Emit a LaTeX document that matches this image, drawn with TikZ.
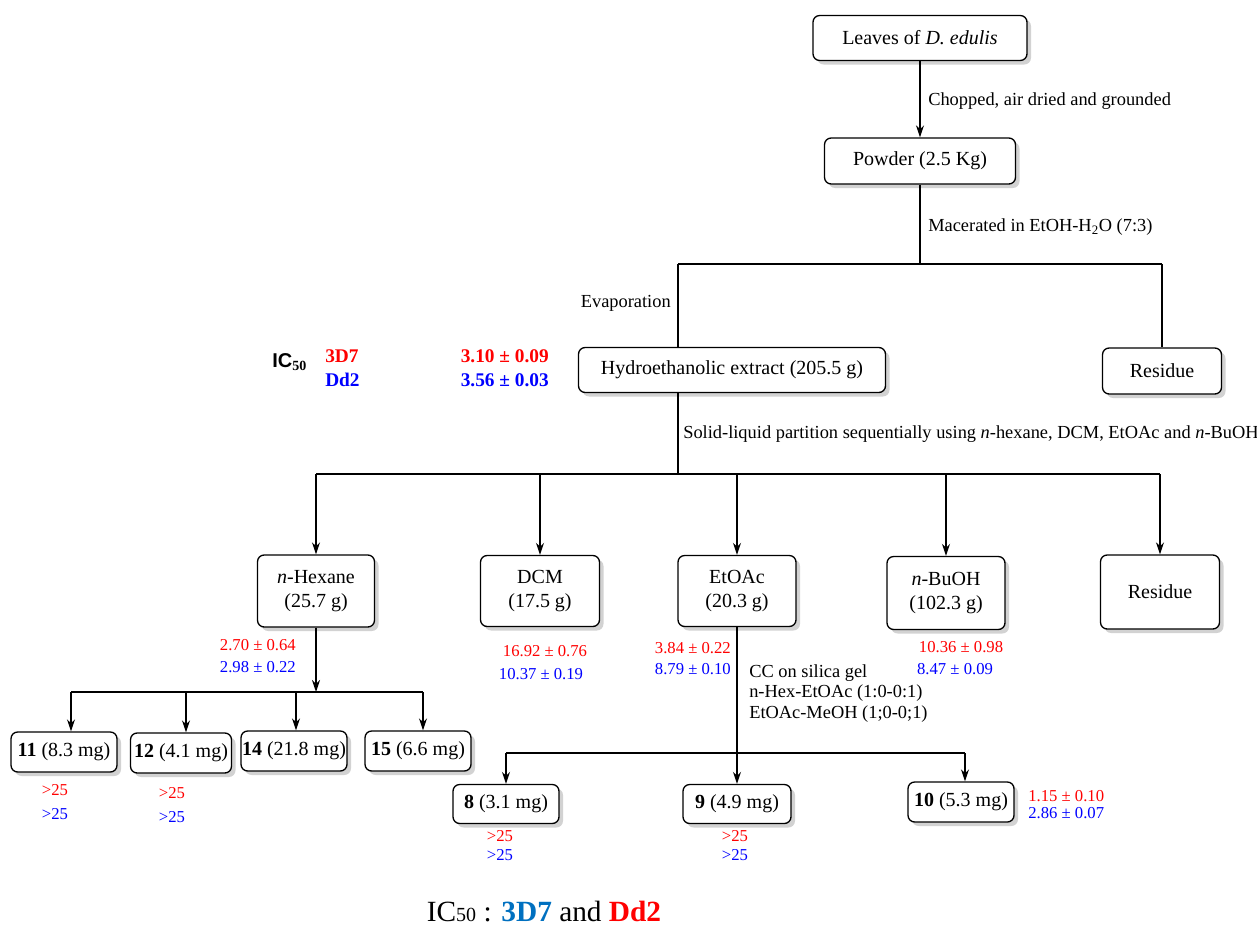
\documentclass[tikz,border=0pt]{standalone}
\usepackage{fontspec}
\setmainfont{Liberation Serif}
\newfontfamily\arialf{Liberation Sans}
\usetikzlibrary{shadows,arrows.meta}
\definecolor{myred}{RGB}{255,0,0}
\definecolor{myblue}{RGB}{0,0,255}
\definecolor{lblue}{RGB}{0,112,192}
\begin{document}
\begin{tikzpicture}[x=0.75pt,y=-0.75pt,
 box/.style={draw,line width=1pt,rounded corners=5pt,fill=white,align=center,
   font=\fontsize{15}{18}\selectfont,inner sep=0pt,
   drop shadow={shadow xshift=3pt,shadow yshift=-3pt,fill=black!35}},
 bx/.style 2 args={minimum width=#1*0.75pt,minimum height=#2*0.75pt},
 ln/.style={line width=1.3pt},
 arr/.style={ln,-{Stealth[length=9pt,width=6pt]}},
 lbl/.style={font=\fontsize{13.8}{17}\selectfont,inner sep=0pt},
 val/.style={font=\fontsize{12.5}{15}\selectfont,inner sep=0pt},
 rv/.style={val,text=myred},
 bv/.style={val,text=myblue},
 icb/.style={font=\bfseries\fontsize{14.5}{17}\selectfont,inner sep=0pt},
 ]
\useasboundingbox (0,0) rectangle (1257,929);

% top
\node[box,bx={214}{45}] (leaves) at (920,38) {Leaves of \textit{D. edulis}};
\node[box,bx={191}{46}] (powder) at (920,161) {Powder (2.5 Kg)};
\draw[arr] (leaves) -- (powder);
\node[lbl,anchor=west] (l1) at (928,101) {Chopped, air dried and grounded};
\coordinate (j1) at (920,264);
\draw[ln] (powder) -- (j1);
\node[lbl,anchor=west] (l2) at (928,227) {Macerated in EtOH-H\textsubscript{2}O (7:3)};

\node[box,bx={307}{45}] (hydro) at (732,370) {Hydroethanolic extract (205.5 g)};
\node[box,bx={119}{46}] (res1) at (1162,371) {Residue};
\coordinate (jL) at (678,264);
\coordinate (jR) at (1162,264);
\draw[ln] (jL) -- (jR);
\draw[ln] (jL) -- (jL |- hydro.north);
\draw[ln] (jR) -- (res1.north);
\node[lbl,anchor=east] (evap) at (671,303) {Evaporation};

% IC50 block
\node[anchor=west,inner sep=0pt,font=\arialf\bfseries\fontsize{15}{17}\selectfont] (ic) at (272,362) {IC\textsubscript{\rmfamily 50}};
\node[icb,anchor=west,text=myred] (s3d7) at (325,356) {3D7};
\node[icb,anchor=west,text=myblue] (sdd2) at (325,380) {Dd2};
\node[icb,anchor=east,text=myred] (v1) at (549,356) {3.10 ± 0.09};
\node[icb,anchor=east,text=myblue] (v2) at (549,380) {3.56 ± 0.03};

% partition
\coordinate (p0) at (678,474);
\draw[ln] (jL |- hydro.south) -- (p0);
\node[lbl,anchor=west] (l3) at (683,434) {Solid-liquid partition sequentially using \textit{n}-hexane, DCM, EtOAc and \textit{n}-BuOH};

\node[box,bx={117}{72}] (hexane) at (316,591) {\textit{n}-Hexane\\(25.7 g)};
\node[box,bx={119}{71}] (dcm) at (540,591) {DCM\\(17.5 g)};
\node[box,bx={118}{71}] (etoac) at (737,591) {EtOAc\\(20.3 g)};
\node[box,bx={118}{73}] (buoh) at (946,593) {\textit{n}-BuOH\\(102.3 g)};
\node[box,bx={119}{74}] (res2) at (1160,592) {Residue};
\draw[ln] (hexane.north |- p0) -- (res2.north |- p0);
\foreach \n in {hexane,dcm,etoac,buoh,res2}
  \draw[arr] (\n.north |- p0) -- (\n.north);

% values under fractions
\node[rv,anchor=east] (hv1) at (296,645) {2.70 ± 0.64};
\node[bv,anchor=east] (hv2) at (296,667) {2.98 ± 0.22};
\node[rv] (dv1) at (545,651) {16.92 ± 0.76};
\node[bv] (dv2) at (541,674) {10.37 ± 0.19};
\node[rv,anchor=east] (ev1) at (731,648) {3.84 ± 0.22};
\node[bv,anchor=east] (ev2) at (731,669) {8.79 ± 0.10};
\node[rv] (bv1) at (961,647) {10.36 ± 0.98};
\node[bv] (bv2) at (955,669) {8.47 ± 0.09};

% hexane subtree
\coordinate (hx) at (316,692);
\coordinate (a11) at (71,692);
\coordinate (a12) at (186,692);
\coordinate (a14) at (296,692);
\coordinate (a15) at (423,692);
\draw[arr] (hexane.south) -- (hx);
\draw[ln] (a11) -- (a15);
\node[box,bx={106}{40}] (c11) at (64,752) {\textbf{11} (8.3 mg)};
\node[box,bx={101}{40}] (c12) at (181,753) {\textbf{12} (4.1 mg)};
\node[box,bx={106}{40}] (c14) at (294,751) {\textbf{14} (21.8 mg)};
\node[box,bx={106}{40}] (c15) at (418,751) {\textbf{15} (6.6 mg)};
\draw[arr] (a11) -- (a11 |- c11.north);
\draw[arr] (a12) -- (a12 |- c12.north);
\draw[arr] (a14) -- (a14 |- c14.north);
\draw[arr] (a15) -- (a15 |- c15.north);
\node[rv] (r11a) at (55,790) {>25};
\node[bv] (r11b) at (55,814) {>25};
\node[rv] (r12a) at (172,793) {>25};
\node[bv] (r12b) at (172,817) {>25};

% EtOAc subtree
\node[lbl,anchor=west] (cc1) at (749,673) {CC on silica gel};
\node[lbl,anchor=west] (cc2) at (749,693) {n-Hex-EtOAc (1:0-0:1)};
\node[lbl,anchor=west] (cc3) at (749,714) {EtOAc-MeOH (1;0-0;1)};
\coordinate (e8) at (506,753);
\coordinate (e10) at (965,753);
\node[box,bx={106}{39}] (c8) at (506,804) {\textbf{8} (3.1 mg)};
\node[box,bx={108}{39}] (c9) at (737,804) {\textbf{9} (4.9 mg)};
\node[box,bx={106}{40}] (c10) at (961,802) {\textbf{10} (5.3 mg)};
\draw[arr] (etoac.south) -- (c9.north);
\draw[ln] (e8) -- (e10);
\draw[arr] (e8) -- (e8 |- c8.north);
\draw[arr] (e10) -- (e10 |- c10.north);
\node[rv,anchor=west] (t10a) at (1028,796) {1.15 ± 0.10};
\node[bv,anchor=west] (t10b) at (1028,813) {2.86 ± 0.07};
\node[rv] (t8a) at (500,836) {>25};
\node[bv] (t8b) at (500,855) {>25};
\node[rv] (t9a) at (735,836) {>25};
\node[bv] (t9b) at (735,855) {>25};

% legend
\node[inner sep=0pt,font=\fontsize{22}{26}\selectfont] (leg) at (544,912) {IC{\fontsize{15}{18}\selectfont 50} : \textcolor{lblue}{\textbf{3D7}} and \textcolor{myred}{\textbf{Dd2}}};
\end{tikzpicture}
\end{document}
